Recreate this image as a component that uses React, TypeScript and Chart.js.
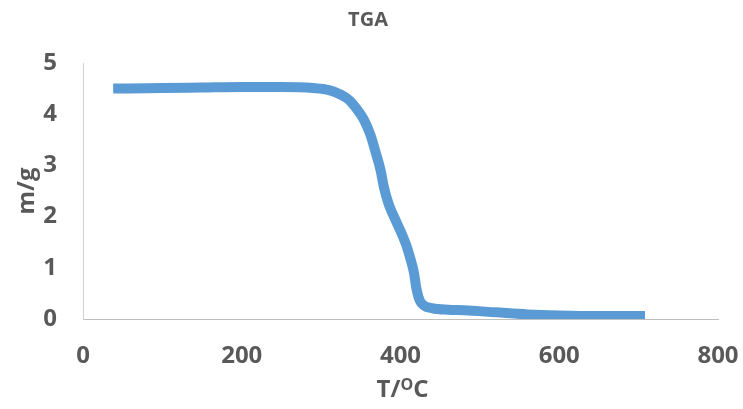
import React, { useEffect, useRef } from "react";
import { Chart, registerables } from "chart.js";

Chart.register(...registerables);

// Temperature (°C) and remaining mass (g) of the TGA run
const temperature = [
  38, 100, 150, 200, 250, 290, 310, 325, 335, 345, 354, 362, 369, 375, 379, 385,
  392, 400, 408, 413, 417, 420, 424, 430, 440, 460, 480, 520, 560, 600, 650, 708,
];
const mass = [
  4.5, 4.51, 4.52, 4.53, 4.53, 4.51, 4.47, 4.38, 4.28, 4.1, 3.89, 3.6, 3.24, 2.9, 2.58, 2.25,
  1.99, 1.72, 1.41, 1.15, 0.9, 0.6, 0.37, 0.26, 0.21, 0.18, 0.17, 0.13, 0.09, 0.07, 0.06, 0.06,
];
const xTicks = [0, 200, 400, 600, 800];
const yTicks = [0, 1, 2, 3, 4, 5];

const chartTitle = "TGA";
const yTitle = "m/g";

const FONT = "'Open Sans', 'Liberation Sans', sans-serif";
const TEXT = "#595959";

const titlesPlugin = {
  id: "axisTitles",
  afterDraw(chart: any) {
    const { ctx, chartArea } = chart;
    ctx.save();
    ctx.fillStyle = TEXT;
    ctx.textBaseline = "middle";
    ctx.textAlign = "center";

    // chart title
    ctx.font = `bold 20px ${FONT}`;
    ctx.fillText(chartTitle, 368, 20);

    // y axis title
    ctx.font = `bold 24px ${FONT}`;
    ctx.save();
    ctx.translate(27, (chartArea.top + chartArea.bottom) / 2);
    ctx.rotate(-Math.PI / 2);
    ctx.fillText(yTitle, 0, 0);
    ctx.restore();

    // x axis title: T/°C with a raised "O"
    const cx = (chartArea.left + chartArea.right) / 2 + 2;
    const cy = 390;
    const big = `bold 24px ${FONT}`;
    const small = `bold 16px ${FONT}`;
    ctx.font = big;
    const w1 = ctx.measureText("T/").width;
    const w3 = ctx.measureText("C").width;
    ctx.font = small;
    const w2 = ctx.measureText("O").width;
    let x = cx - (w1 + w2 + w3) / 2;
    ctx.textAlign = "left";
    ctx.font = big;
    ctx.fillText("T/", x, cy);
    x += w1;
    ctx.font = small;
    ctx.fillText("O", x, cy - 5);
    x += w2;
    ctx.font = big;
    ctx.fillText("C", x, cy);
    ctx.restore();
  },
};

export default function App() {
  const ref = useRef<HTMLCanvasElement>(null);

  useEffect(() => {
    document.body.style.margin = "0";
    const canvas = ref.current!;
    const chart = new Chart(canvas, {
      type: "scatter",
      data: {
        datasets: [
          {
            data: temperature.map((t, i) => ({ x: t, y: mass[i] })),
            showLine: true,
            borderColor: "#5B9BD5",
            backgroundColor: "#5B9BD5",
            borderWidth: 10,
            pointRadius: 0,
            cubicInterpolationMode: "monotone",
            borderCapStyle: "butt",
            borderJoinStyle: "round",
          },
        ],
      },
      options: {
        responsive: false,
        animation: false,
        layout: { padding: { top: 63, right: 0, left: 0, bottom: 0 } },
        plugins: { legend: { display: false }, tooltip: { enabled: false }, title: { display: false } },
        scales: {
          x: {
            type: "linear",
            min: 0,
            max: 800,
            afterBuildTicks: (s: any) => {
              s.ticks = xTicks.map((v) => ({ value: v }));
            },
            afterFit: (s: any) => {
              s.height = 90;
              s.paddingLeft = 0;
              s.paddingRight = 25;
            },
            grid: { drawOnChartArea: false, drawTicks: false },
            border: { display: true, color: "#BFBFBF", width: 1 },
            ticks: { padding: 23, color: TEXT, font: { family: FONT, size: 24, weight: "bold" } },
          },
          y: {
            type: "linear",
            min: 0,
            max: 5,
            afterBuildTicks: (s: any) => {
              s.ticks = yTicks.map((v) => ({ value: v }));
            },
            afterFit: (s: any) => {
              s.width = 83;
            },
            grid: { drawOnChartArea: false, drawTicks: false },
            border: { display: true, color: "#D0D0D0", width: 1 },
            ticks: { padding: 26, color: TEXT, font: { family: FONT, size: 24, weight: "bold" } },
          },
        },
      },
      plugins: [titlesPlugin],
    });
    return () => chart.destroy();
  }, []);

  return <canvas ref={ref} width={743} height={409} style={{ display: "block" }} />;
}
